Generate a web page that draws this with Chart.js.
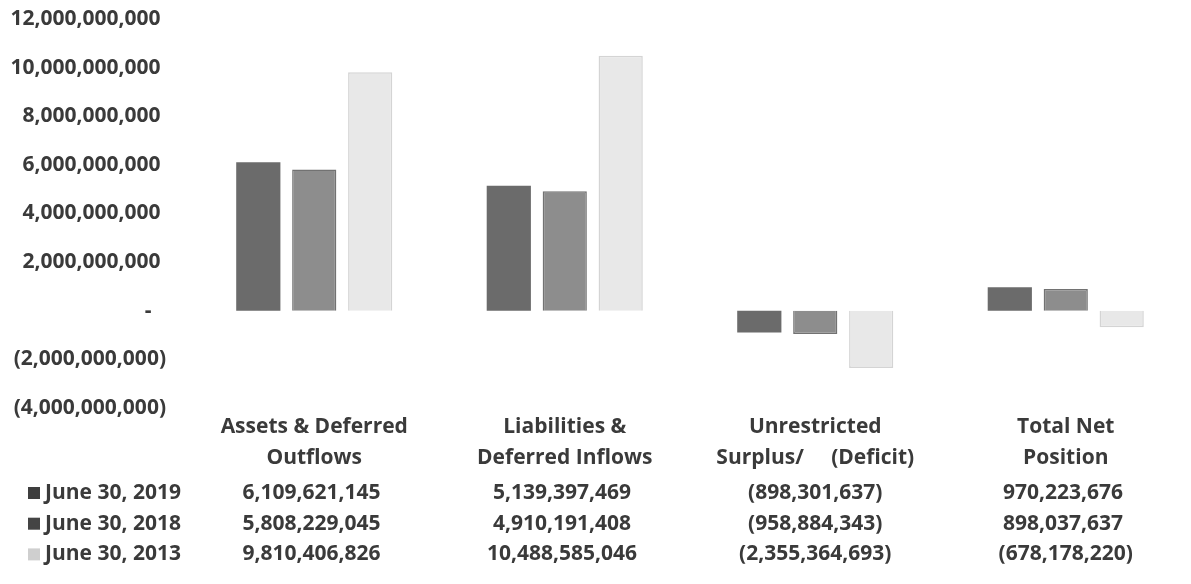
<!DOCTYPE html>
<html>
<head>
<meta charset="utf-8">
<script src="https://cdn.jsdelivr.net/npm/chart.js@4/dist/chart.umd.min.js"></script>
<style>
  html, body { margin: 0; padding: 0; background: #ffffff; }
  #wrap { position: relative; width: 1191px; height: 584px; }
</style>
</head>
<body>
<div id="wrap"><canvas id="chart"></canvas></div>
<script>
// Net position components by fiscal year
const categories = [
  ['Assets & Deferred', 'Outflows'],
  ['Liabilities &', 'Deferred Inflows'],
  ['Unrestricted', 'Surplus/     (Deficit)'],
  ['Total Net', 'Position']
];
const seriesNames = ['June 30, 2019', 'June 30, 2018', 'June 30, 2013'];
const values2019 = [6109621145, 5139397469, -898301637, 970223676];
const values2018 = [5808229045, 4910191408, -958884343, 898037637];
const values2013 = [9810406826, 10488585046, -2355364693, -678178220];
const yTicks = [-4000000000, -2000000000, 0, 2000000000, 4000000000, 6000000000, 8000000000, 10000000000, 12000000000];

const fillColors = ['#6b6b6b', '#8d8d8d', '#e8e8e8'];
const edgeColors = ['#6b6b6b', '#727272', '#d4d4d4'];
const swatchColors = ['#3e3e3e', '#444444', '#cfcfcf'];
const textColor = '#3a3a3a';
const fontFamily = '"Open Sans", "Liberation Sans", sans-serif';

// Accounting-style number text: negatives in parentheses, zero as a dash
function accounting(v) {
  if (v === 0) return '-  \u2009';
  const s = Math.abs(v).toLocaleString('en-US');
  return v < 0 ? '(' + s + ')' : s + ' ';
}

// Data table under the category labels: one row per series
const dataTablePlugin = {
  id: 'dataTable',
  afterDraw(chart) {
    const ctx = chart.ctx;
    const x = chart.scales.x;
    const top = chart.chartArea.bottom + 85;
    const rowStep = 30.7;
    ctx.save();
    ctx.font = 'bold 21px ' + fontFamily;
    ctx.textBaseline = 'middle';
    chart.data.datasets.forEach((ds, i) => {
      const y = top + i * rowStep;
      ctx.fillStyle = swatchColors[i];
      ctx.fillRect(28, y - 6, 12, 12);
      ctx.fillStyle = textColor;
      ctx.textAlign = 'left';
      ctx.fillText(seriesNames[i], 45, y);
      ctx.textAlign = 'center';
      ds.data.forEach((v, j) => {
        ctx.fillText(accounting(v), x.getPixelForValue(j), y);
      });
    });
    ctx.restore();
  }
};

new Chart(document.getElementById('chart'), {
  type: 'bar',
  data: {
    labels: categories,
    datasets: [values2019, values2018, values2013].map((vals, i) => ({
      label: seriesNames[i],
      data: vals,
      backgroundColor: fillColors[i],
      borderColor: edgeColors[i],
      borderWidth: i === 0 ? 0 : 1.5,
      categoryPercentage: 0.67,
      barPercentage: 0.79
    }))
  },
  options: {
    responsive: true,
    maintainAspectRatio: false,
    animation: false,
    layout: { padding: { top: 19, right: 0, bottom: 0, left: 0 } },
    plugins: {
      legend: { display: false },
      tooltip: { enabled: false }
    },
    scales: {
      y: {
        min: -4000000000,
        max: 12000000000,
        afterBuildTicks(scale) { scale.ticks = yTicks.map(v => ({ value: v })); },
        afterFit(scale) {
          scale.width = 189;
          scale.paddingTop = 0;
          scale.paddingBottom = 0;
        },
        grid: { display: false, drawTicks: false },
        border: { display: false },
        ticks: {
          padding: 23,
          color: textColor,
          font: { family: fontFamily, size: 21, weight: 'bold' },
          callback: v => accounting(v)
        }
      },
      x: {
        afterFit(scale) {
          scale.height = 176;
          scale.paddingTop = 0;
          scale.paddingBottom = 0;
        },
        grid: { display: false, drawTicks: false },
        border: { display: false },
        ticks: {
          padding: 3,
          maxRotation: 0,
          autoSkip: false,
          color: textColor,
          font: { family: fontFamily, size: 21, weight: 'bold', lineHeight: 1.48 }
        }
      }
    }
  },
  plugins: [dataTablePlugin]
});
</script>
</body>
</html>
